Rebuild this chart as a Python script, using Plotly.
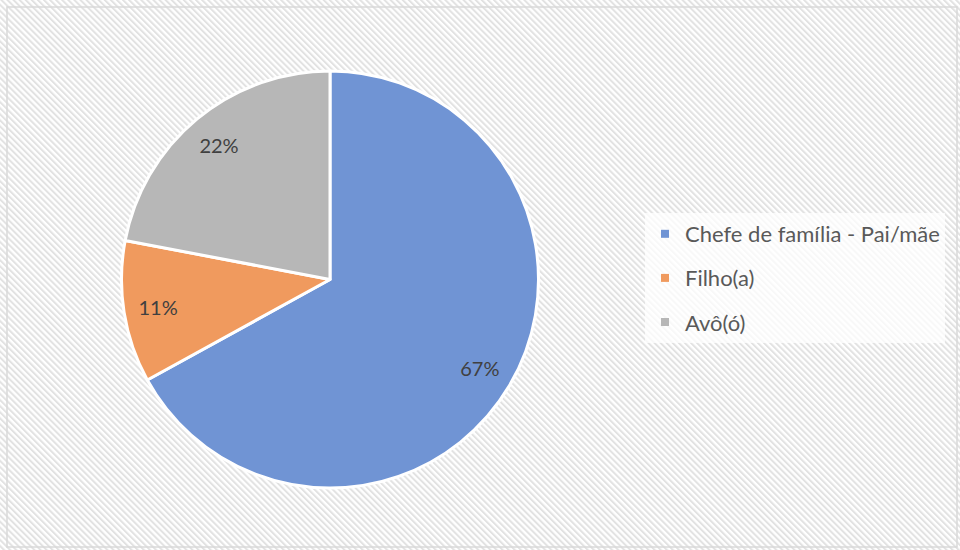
import plotly.graph_objects as go
import urllib.parse

categories = ["Chefe de família - Pai/mãe", "Filho(a)", "Avô(ó)"]
values = [67, 11, 22]
colors = ["#7094d4", "#f09a5e", "#b7b7b7"]

W, H = 960, 550
FONT = "Lato, 'Open Sans', sans-serif"

svg = (
    "<svg xmlns='http://www.w3.org/2000/svg' width='960' height='550'>"
    "<defs><pattern id='p' width='4.3' height='4.3' patternUnits='userSpaceOnUse' "
    "patternTransform='rotate(-45)'>"
    "<rect width='4.3' height='4.3' fill='white'/>"
    "<rect width='2' height='4.3' fill='#e2e2e2'/></pattern></defs>"
    "<rect width='960' height='550' fill='url(#p)'/></svg>"
)
bg_uri = "data:image/svg+xml;charset=utf-8," + urllib.parse.quote(svg)

pie_domain = dict(x=[121 / W, 539 / W], y=[1 - 488 / H, 1 - 71 / H])

fig = go.Figure()
# Filled pie
fig.add_trace(go.Pie(
    labels=categories,
    values=values,
    sort=False,
    direction="clockwise",
    rotation=0,
    marker=dict(colors=colors, line=dict(color="white", width=3)),
    textinfo="none",
    domain=pie_domain,
    showlegend=False,
    hoverinfo="label+percent",
))
# Transparent ring carrying the percentage labels (placed near the rim)
fig.add_trace(go.Pie(
    labels=categories,
    values=values,
    sort=False,
    direction="clockwise",
    rotation=0,
    hole=0.67,
    marker=dict(colors=["rgba(0,0,0,0)"] * len(values), line=dict(width=0)),
    texttemplate="%{percent:.0%}",
    textposition="inside",
    insidetextorientation="horizontal",
    textfont=dict(family=FONT, size=20, color="#404040"),
    domain=pie_domain,
    showlegend=False,
    hoverinfo="skip",
))

for i, (cat, col) in enumerate(zip(categories, colors)):
    fig.add_trace(go.Scatter(
        x=[None], y=[None], mode="markers", name=cat,
        marker=dict(symbol="square", size=8, color=col),
        legendgroup=f"g{i}", showlegend=True,
    ))

fig.update_layout(
    width=W, height=H,
    margin=dict(l=0, r=0, t=0, b=0),
    paper_bgcolor="white",
    plot_bgcolor="rgba(0,0,0,0)",
    xaxis=dict(visible=False),
    yaxis=dict(visible=False),
    legend=dict(
        x=645 / W, xanchor="left",
        y=1 - 213 / H, yanchor="top",
        bgcolor="rgba(255,255,255,0.75)",
        font=dict(family=FONT, size=22, color="#595959"),
        tracegroupgap=12.5,
        itemclick=False,
    ),
    images=[dict(source=bg_uri, xref="paper", yref="paper", x=0, y=1,
                 sizex=1, sizey=1, xanchor="left", yanchor="top",
                 sizing="stretch", layer="below")],
    shapes=[dict(type="rect", xref="paper", yref="paper",
                 x0=7 / W, x1=957 / W, y0=1 - 547 / H, y1=1 - 7 / H,
                 line=dict(color="#d9d9d9", width=1.5), fillcolor="rgba(0,0,0,0)")],
)

fig.write_html("out.html", config={"displayModeBar": False},
               post_script="document.body.style.margin='0';")
